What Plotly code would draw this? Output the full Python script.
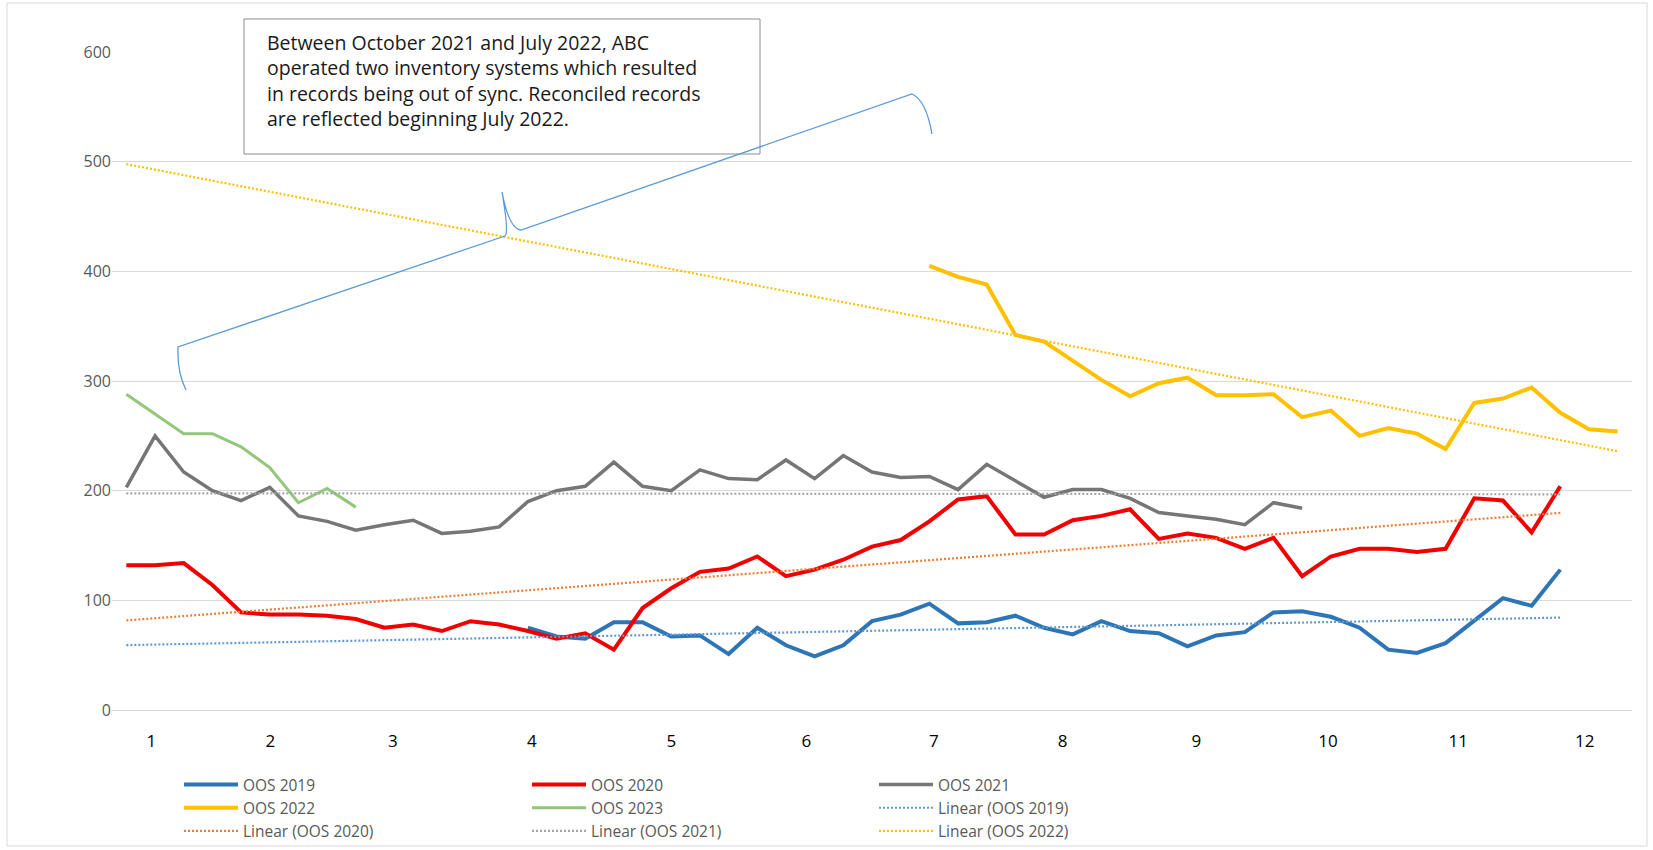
import numpy as np
import plotly.graph_objects as go

# ---------------- data (weekly values, week 1..53) ----------------
N = None
weeks_all = list(range(1, 54))
month_labels = [str(m) for m in range(1, 13)]
month_label_week = [1.87, 6.02, 10.29, 15.14, 20.0, 24.71, 29.16, 33.65, 38.31, 42.9, 47.44, 51.85]

oos_2019 = [N] * 14 + [75, 67, 65, 80, 80, 67, 68, 51, 75, 59,
                       49, 59, 81, 87, 97, 79, 80, 86, 75, 69,
                       81, 72, 70, 58, 68, 71, 89, 90, 85, 75,
                       55, 52, 61, 82, 102, 95, 128]
oos_2020 = [132, 132, 134, 114, 89, 87, 87, 86, 83, 75,
            78, 72, 81, 78, 72, 65, 70, 55, 93, 111,
            126, 129, 140, 122, 128, 137, 149, 155, 172, 192,
            195, 160, 160, 173, 177, 183, 156, 161, 157, 147,
            157, 122, 140, 147, 147, 144, 147, 193, 191, 162, 204]
oos_2021 = [203, 250, 217, 200, 191, 203, 177, 172, 164, 169,
            173, 161, 163, 167, 190, 200, 204, 226, 204, 200,
            219, 211, 210, 228, 211, 232, 217, 212, 213, 201,
            224, 209, 194, 201, 201, 193, 180, 177, 174, 169,
            189, 184] + [N] * 9
oos_2022 = [N] * 28 + [405, 395, 388, 342, 336, 318, 301, 286, 298, 303,
                       287, 287, 288, 267, 273, 250, 257, 252, 238, 280,
                       284, 294, 271, 256, 254]
oos_2023 = [288, 270, 252, 252, 240, 221, 189, 202, 185]

series_names = ["OOS 2019", "OOS 2020", "OOS 2021", "OOS 2022", "OOS 2023"]
series_values = [oos_2019, oos_2020, oos_2021, oos_2022, oos_2023]
series_colors = ["#2E75B6", "#F00000", "#767676", "#FFC000", "#92C77A"]
series_widths = [4, 4, 3.5, 4, 3]
series_legend = ["legend", "legend2", "legend3", "legend", "legend2"]

trend_names = ["Linear (OOS 2019)", "Linear (OOS 2020)", "Linear (OOS 2021)", "Linear (OOS 2022)"]
trend_of = [0, 1, 2, 3]
trend_colors = ["#5B9BD5", "#ED7D31", "#A5A5A5", "#FFC000"]
trend_legend = ["legend3", "legend", "legend2", "legend3"]

note_text = ("Between October 2021 and July 2022, ABC<br>"
             "operated two inventory systems which resulted<br>"
             "in records being out of sync. Reconciled records<br>"
             "are reflected beginning July 2022.")

# ---------------- layout geometry ----------------
W, H = 1653, 850
L, R, T, B = 112, 21, 52, 140
PW, PH = W - L - R, H - T - B
XR = [0.5, 53.5]
YR = [0, 600]
FONT = "'Open Sans', 'Noto Sans', Lato, Arial, sans-serif"


def px_x(px):
    return XR[0] + (px - L) / PW * (XR[1] - XR[0])


def py_y(py):
    return YR[0] + (T + PH - py) / PH * (YR[1] - YR[0])


def paper_x(px):
    return (px - L) / PW


def paper_y(py):
    return (T + PH - py) / PH


fig = go.Figure()

for name, vals, col, lw, lg in zip(series_names, series_values, series_colors,
                                    series_widths, series_legend):
    fig.add_trace(go.Scatter(
        x=weeks_all[:len(vals)], y=vals, name=name, mode="lines",
        line=dict(color=col, width=lw), connectgaps=False, legend=lg))

for name, si, col, lg in zip(trend_names, trend_of, trend_colors, trend_legend):
    vals = series_values[si]
    xs = np.array(weeks_all[:len(vals)], dtype=float)
    ys = np.array([np.nan if v is None else v for v in vals], dtype=float)
    ok = ~np.isnan(ys)
    slope, icpt = np.polyfit(xs[ok], ys[ok], 1)
    fig.add_trace(go.Scatter(
        x=xs, y=slope * xs + icpt, name=name, mode="lines",
        line=dict(color=col, width=2.2, dash="2px,2px"), legend=lg))

# order of entries inside each legend column
legend_rank = {"OOS 2019": 1, "OOS 2022": 2, "Linear (OOS 2020)": 3,
               "OOS 2020": 1, "OOS 2023": 2, "Linear (OOS 2021)": 3,
               "OOS 2021": 1, "Linear (OOS 2019)": 2, "Linear (OOS 2022)": 3}
for tr in fig.data:
    tr.legendrank = legend_rank[tr.name]

# curly brace (pixel geometry converted to data coordinates)
brace_pts = [(186, 390), (177, 372), (178, 347), (505, 236), (509, 233), (502, 192),
             (509, 229), (521, 230), (912, 94), (926, 100), (932, 134)]
bp = [(px_x(a), py_y(b)) for a, b in brace_pts]
path = (f"M {bp[0][0]},{bp[0][1]} Q {bp[1][0]},{bp[1][1]} {bp[2][0]},{bp[2][1]} "
        f"L {bp[3][0]},{bp[3][1]} Q {bp[4][0]},{bp[4][1]} {bp[5][0]},{bp[5][1]} "
        f"Q {bp[6][0]},{bp[6][1]} {bp[7][0]},{bp[7][1]} "
        f"L {bp[8][0]},{bp[8][1]} Q {bp[9][0]},{bp[9][1]} {bp[10][0]},{bp[10][1]}")

shapes = [
    dict(type="rect", xref="paper", yref="paper",
         x0=paper_x(7), x1=paper_x(1647), y0=paper_y(846), y1=paper_y(3),
         line=dict(color="#D9D9D9", width=1), layer="below"),
    dict(type="rect", xref="paper", yref="paper",
         x0=paper_x(244), x1=paper_x(760), y0=paper_y(154), y1=paper_y(19),
         line=dict(color="#8C8C8C", width=1), fillcolor="white", layer="above"),
    dict(type="path", path=path, xref="x", yref="y",
         line=dict(color="#5B9BD5", width=1.3), layer="above"),
]

annotations = [dict(
    text=note_text, xref="paper", yref="paper",
    x=paper_x(267), y=paper_y(29), xanchor="left", yanchor="top",
    showarrow=False, align="left", borderpad=0, borderwidth=0,
    font=dict(family=FONT, size=19.5, color="#1A1A1A"))]

leg_common = dict(orientation="v", xanchor="left", yanchor="top",
                  xref="container", yref="container",
                  itemwidth=54, bgcolor="rgba(0,0,0,0)", borderwidth=0,
                  font=dict(family=FONT, size=15.5, color="#595959"),
                  traceorder="normal", itemclick=False, itemdoubleclick=False)
LEG_TOP = 768

fig.update_layout(
    width=W, height=H,
    margin=dict(l=L, r=R, t=T, b=B, pad=0, autoexpand=False),
    paper_bgcolor="white", plot_bgcolor="white",
    font=dict(family=FONT),
    showlegend=True,
    legend=dict(x=179 / W, y=1 - LEG_TOP / H, **leg_common),
    legend2=dict(x=527 / W, y=1 - LEG_TOP / H, **leg_common),
    legend3=dict(x=874 / W, y=1 - LEG_TOP / H, **leg_common),
    shapes=shapes,
    annotations=annotations,
    xaxis=dict(range=XR, tickmode="array", tickvals=month_label_week, ticktext=month_labels,
               showgrid=False, zeroline=False, showline=False, ticks="",
               ticklabelstandoff=19,
               tickfont=dict(family=FONT, size=17, color="#000000")),
    yaxis=dict(range=YR, tickmode="array", tickvals=[0, 100, 200, 300, 400, 500, 600],
               showgrid=True, gridcolor="#D9D9D9", gridwidth=1.3,
               zeroline=True, zerolinecolor="#D9D9D9", zerolinewidth=1.3,
               showline=False, ticks="", ticklabelstandoff=0,
               tickfont=dict(family=FONT, size=16, color="#595959")),
)

fig.write_html("out.html", config={"displayModeBar": False},
               post_script="document.body.style.margin='0px';")
